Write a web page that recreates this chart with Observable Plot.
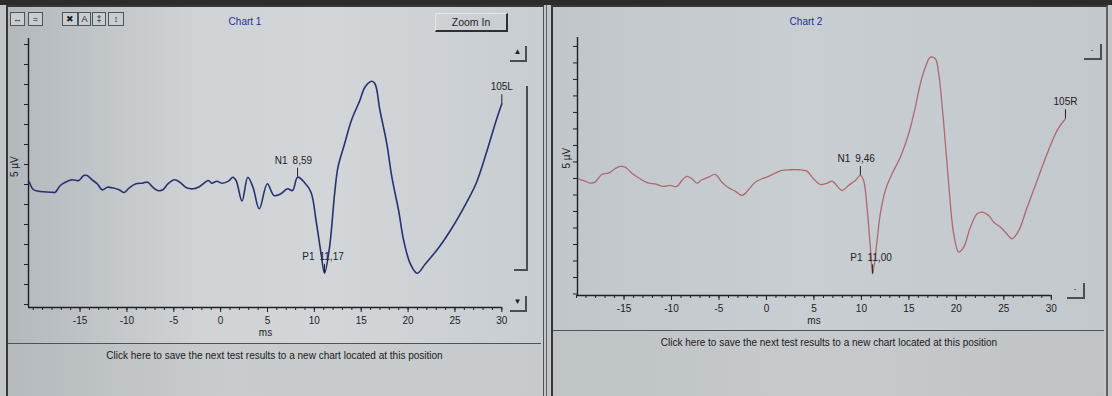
<!DOCTYPE html>
<html><head><meta charset="utf-8">
<script src="https://cdn.jsdelivr.net/npm/d3@7"></script>
<script src="https://cdn.jsdelivr.net/npm/@observablehq/plot@0.6"></script>
<style>
body{margin:0;width:1112px;height:396px;overflow:hidden;position:relative;background:#c2c6c9;font-family:"Liberation Sans",Arial,sans-serif;}
.abs{position:absolute;}
.btn{position:absolute;height:12px;border:1px solid #50555a;font-size:9px;line-height:12px;text-align:center;color:#222;background:#c9cdd0;}
.ctl{position:absolute;border-right:2px solid #4a4e52;border-bottom:2px solid #4a4e52;font-size:8px;line-height:12px;text-align:center;color:#222;}
.click{position:absolute;font-size:10px;color:#1a1a1a;white-space:nowrap;text-align:center;}
.title{position:absolute;font-size:10px;color:#1d2d9c;text-align:center;width:80px;}
</style></head><body>
<div class="abs" style="left:0;top:0;width:1112px;height:5px;background:#2c2c2c"></div>
<!-- panel 1 -->
<div class="abs" style="left:6px;top:5px;width:535px;height:391px;border-left:2px solid #35383b;border-top:2px solid #35383b;border-right:1px solid #4d5256;background:linear-gradient(to right,#b3b8bc 0%,#cfd3d6 35%,#d2d6d9 60%,#c8cdd1 100%)"></div>
<div class="abs" style="left:546px;top:5px;width:1px;height:391px;background:#5d6266"></div>
<div class="abs" style="left:8px;top:343px;width:533px;height:53px;background:linear-gradient(to right,#b5babe,#c8ccce 40%,#c6cacc);border-top:1px solid #4e5357"></div>
<!-- panel 2 -->
<div class="abs" style="left:551px;top:5px;width:553px;height:391px;border-left:2px solid #35383b;border-top:2px solid #35383b;border-right:2px solid #5d6266;background:linear-gradient(to right,#c0c6ca 0%,#c8ced2 45%,#c2c8cc 100%)"></div>
<div class="abs" style="left:553px;top:330px;width:551px;height:66px;background:linear-gradient(to right,#bec3c6,#c6cacc 50%,#bfc3c5);border-top:1px solid #4e5357"></div>

<div id="c1" class="abs" style="left:0;top:0"></div>
<div id="c2" class="abs" style="left:552px;top:0"></div>

<div class="title" style="left:205px;top:16px">Chart 1</div>
<div class="title" style="left:766px;top:16px">Chart 2</div>

<div class="btn" style="left:10px;top:12px;width:13px">&#8596;</div>
<div class="btn" style="left:28px;top:12px;width:13px">=</div>
<div class="btn" style="left:62px;top:12px;width:14px">&#10006;</div>
<div class="btn" style="left:78px;top:12px;width:11px">A</div>
<div class="btn" style="left:92px;top:12px;width:12px">&#8225;</div>
<div class="btn" style="left:108px;top:12px;width:14px">&#8597;</div>

<div class="abs" style="left:435px;top:13px;width:70px;height:16px;border-top:1px solid #e4e7e9;border-left:1px solid #e4e7e9;border-right:2px solid #2e3134;border-bottom:2px solid #2e3134;font-size:10.5px;line-height:16px;text-align:center;color:#222">Zoom In</div>

<div class="ctl" style="left:510px;top:46px;width:15px;height:14px">&#9650;</div>
<div class="abs" style="left:514px;top:86px;width:12px;height:183px;border-right:2px solid #4a4e52;border-bottom:2px solid #4a4e52"></div>
<div class="ctl" style="left:510px;top:296px;width:15px;height:14px">&#9660;</div>

<div class="ctl" style="left:1084px;top:44px;width:16px;height:14px">-</div>
<div class="ctl" style="left:1067px;top:283px;width:16px;height:14px">-</div>

<div class="click" style="left:8px;top:350px;width:533px">Click here to save the next test results to a new chart located at this position</div>
<div class="click" style="left:554px;top:337px;width:550px">Click here to save the next test results to a new chart located at this position</div>

<script>
// ---- shared axis ticks ----
const xMajorTicks = [-15, -10, -5, 0, 5, 10, 15, 20, 25, 30];
const xTickLabels = ["-15", "-10", "-5", "0", "5", "10", "15", "20", "25", "30"];
const xMinorTicks = d3.range(-20, 31, 1);
const xLabel = "ms";
const yLabel = "5 µV";

// ---- Chart 1 (left, blue) ----
const c1Time = [-20.4,-19.99,-19.45,-18.02,-17.65,-17.11,-16.57,-15.86,-15.14,-14.6,-14.25,-13.71,-13.17,-12.63,-12.09,-11.55,-10.83,-10.29,-9.75,-9.03,-8.32,-7.78,-7.24,-6.7,-6.16,-5.63,-4.9,-4.36,-3.64,-2.93,-2.39,-1.85,-1.31,-0.95,-0.41,0.13,0.84,1.3,1.65,2.28,2.9,3.45,4.12,4.98,5.69,6.41,7.13,7.67,8.21,8.92,9.64,10.18,10.72,11.08,11.62,12.16,12.52,13.23,13.95,14.85,15.39,16.11,16.47,17.0,17.73,18.27,18.99,19.53,20.24,20.96,21.85,23.3,24.73,26.16,27.24,28.32,29.4,30.0];
const c1Amp = [0.58,-1.25,-1.68,-1.93,-1.93,-0.25,0.58,1.18,1.0,2.25,2.25,1.18,0.18,-1.33,-0.68,-0.83,-1.33,-2.0,-0.83,0.18,0.33,0.58,-0.68,-1.5,-1.33,0.18,1.18,0.58,-0.83,-1.08,-0.68,0.18,1.0,0.33,0.83,0.33,0.83,1.83,1.0,-4.13,1.83,-0.68,-6.08,0.18,-2.75,-2.33,-1.08,-1.5,1.83,0.58,-1.93,-9.0,-17.33,-22.18,-15.68,-2.33,4.33,10.18,16.0,21.0,24.33,25.83,25.18,18.5,10.18,1.83,-6.5,-14.0,-19.83,-22.18,-19.83,-15.68,-10.68,-4.83,0.18,7.68,16.0,20.18];
const c1PeakNames = ["N1", "P1"];
const c1PeakTimes = [8.21, 11.08];
const c1PeakLabels = ["8,59", "11,17"];
const c1EndName = "105L";
const c1YTicks = d3.range(-30, 36, 5);

// ---- Chart 2 (right, red) ----
const c2Time = [-19.8,-19.1,-18.57,-18.05,-17.34,-16.64,-15.94,-15.41,-14.88,-14.18,-13.3,-12.43,-11.72,-10.85,-10.14,-9.43,-8.91,-8.38,-7.85,-7.33,-6.8,-6.1,-5.4,-4.69,-3.99,-3.29,-2.58,-1.89,-1.18,-0.47,0.22,0.93,1.63,2.51,3.38,4.27,4.96,5.67,6.38,6.9,7.25,7.96,8.65,9.36,9.89,10.23,10.59,10.94,11.18,11.65,11.99,12.52,13.23,14.1,14.98,15.68,16.21,16.74,17.26,17.79,18.14,18.67,19.19,19.72,20.25,20.77,21.48,22.19,22.71,23.41,23.94,24.64,25.17,25.87,26.57,27.46,28.51,29.56,30.62,31.49];
const c2Amp = [-0.09,-0.82,-1.42,-1.12,1.21,1.61,2.94,3.64,3.42,1.61,-0.09,-1.42,-1.61,-2.42,-2.12,-2.42,-0.61,0.61,-0.09,-1.42,-0.39,0.39,1.21,-1.12,-2.82,-3.85,-5.15,-3.42,-1.12,-0.09,0.61,1.61,2.42,2.64,2.64,2.21,-0.09,-1.82,-1.42,-0.82,-1.61,-3.64,-2.12,-0.61,0.91,-0.61,-8.7,-20.82,-28.88,-18.79,-10.7,-3.64,1.42,6.45,13.55,21.61,28.7,33.73,36.76,36.27,31.73,16.58,-1.61,-16.76,-22.33,-20.82,-14.76,-10.7,-10.21,-11.21,-13.24,-14.76,-16.27,-18.27,-15.76,-8.7,-0.61,7.48,14.55,18.09];
const c2PeakNames = ["N1", "P1"];
const c2PeakTimes = [9.89, 11.18];
const c2PeakLabels = ["9,46", "11,00"];
const c2EndName = "105R";
const c2YTicks = d3.range(-35, 41, 5);

function drawChart(cfg) {
  const data = cfg.time.map((t, i) => ({t, v: cfg.amp[i]}));
  const pxPerUnit = (cfg.height - cfg.mt - cfg.mb) / (cfg.yDomain[1] - cfg.yDomain[0]);
  const tickLen = 9 / pxPerUnit;
  const valueAt = t => data.find(d => d.t === t).v;
  const peaks = cfg.peakNames.map((n, i) => ({name: n, t: cfg.peakTimes[i], label: cfg.peakLabels[i], v: valueAt(cfg.peakTimes[i])}));
  const last = data[data.length - 1];
  const ends = [{name: cfg.endName, t: last.t, v: last.v}];
  const ink = "#1f2124";
  return Plot.plot({
    width: cfg.width, height: cfg.height,
    marginLeft: cfg.ml, marginRight: cfg.mr, marginTop: cfg.mt, marginBottom: cfg.mb,
    x: {domain: cfg.xDomain},
    y: {domain: cfg.yDomain},
    style: {background: "transparent", fontFamily: "'Liberation Sans', Arial, sans-serif", fontSize: "10px", color: ink, overflow: "visible"},
    marks: [
      Plot.ruleX([cfg.xDomain[0]], {stroke: ink, strokeWidth: 1.4}),
      Plot.ruleY([cfg.yDomain[0]], {x1: cfg.xDomain[0], x2: cfg.axisEnd, stroke: ink, strokeWidth: 1.4}),
      Plot.axisY({ticks: cfg.yTicks, tickSize: 4, tickFormat: () => "", label: null, stroke: ink}),
      Plot.axisX({ticks: xMinorTicks, tickSize: 3, tickFormat: () => "", label: null, stroke: ink}),
      Plot.axisX({ticks: xMajorTicks, tickSize: 5, tickPadding: 4, tickFormat: d => xTickLabels[xMajorTicks.indexOf(d)], label: null, stroke: ink}),
      Plot.text([xLabel], {frameAnchor: "bottom", dy: 28, dx: cfg.msDx, fill: ink}),
      Plot.text([yLabel], {frameAnchor: "left", rotate: -90, dx: cfg.uvDx, dy: cfg.uvDy, fill: ink}),
      Plot.line(data, {x: "t", y: "v", stroke: cfg.color, strokeWidth: cfg.sw, curve: "catmull-rom"}),
      Plot.ruleX(peaks.concat(ends), {x: "t", y1: "v", y2: d => d.v + tickLen, stroke: ink, strokeWidth: 1}),
      Plot.text(peaks, {x: "t", y: "v", text: "name", textAnchor: "end", dx: -10, dy: -16.5, fill: ink}),
      Plot.text(peaks, {x: "t", y: "v", text: "label", textAnchor: "start", dx: -5, dy: -16.5, fill: ink}),
      Plot.text(ends, {x: "t", y: "v", text: "name", dy: -16.5, fill: ink})
    ]
  });
}

document.getElementById("c1").append(drawChart({
  time: c1Time, amp: c1Amp, peakNames: c1PeakNames, peakTimes: c1PeakTimes, peakLabels: c1PeakLabels, endName: c1EndName,
  yTicks: c1YTicks, xDomain: [-20.5, 30.5], yDomain: [-30.75, 36.5], axisEnd: 30,
  width: 548, height: 342, ml: 28, mr: 42, mt: 38, mb: 35, color: "#263272", sw: 1.6, msDx: -2, uvDx: -14, uvDy: 4
}));
document.getElementById("c2").append(drawChart({
  time: c2Time, amp: c2Amp, peakNames: c2PeakNames, peakTimes: c2PeakTimes, peakLabels: c2PeakLabels, endName: c2EndName,
  yTicks: c2YTicks, xDomain: [-19.9, 31.6], yDomain: [-35.45, 42.7], axisEnd: 30,
  width: 560, height: 330, ml: 25, mr: 46, mt: 37, mb: 35, color: "#b0686f", sw: 1.3, msDx: -8, uvDx: -11, uvDy: 2
}));
</script>
</body></html>
